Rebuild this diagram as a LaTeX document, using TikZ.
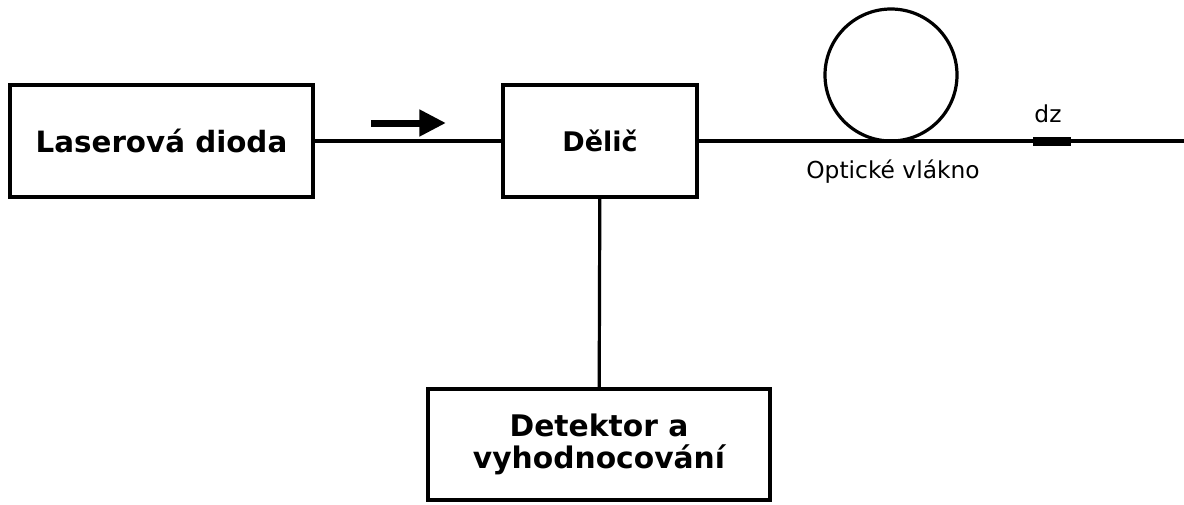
\documentclass[tikz,border=0pt]{standalone}
\usepackage{fontspec}
\setmainfont{DejaVu Sans}
\usetikzlibrary{arrows.meta}

\begin{document}
\begin{tikzpicture}[x=0.75pt, y=-0.75pt,
    blok/.style={draw, line width=2.4pt, inner sep=0pt, align=center,
        font=\fontsize{20.25pt}{24pt}\selectfont\bfseries},
    vlakno/.style={line width=2.4pt},
    popis/.style={font=\fontsize{17.5pt}{20pt}\selectfont}]
    \useasboundingbox (0,0) rectangle (1184,504);

    \coordinate (S) at (371,123);
    \coordinate (T) at (446,123);
    \coordinate (K) at (1184,141);
    \coordinate (C) at (891,75);

    \node[blok, minimum width=227.25pt, minimum height=84pt,
        font=\fontsize{22pt}{24pt}\selectfont\bfseries] (laser) at (161.5,141) {Laserová dioda};
    \node[blok, minimum width=145.5pt, minimum height=84pt] (delic) at (600,141) {Dělič};
    \node[blok, minimum width=256.5pt, minimum height=83.25pt,
        font=\fontsize{22.3pt}{24pt}\selectfont\bfseries] (detektor) at (599,444.5) {Detektor a\\vyhodnocování};

    \draw[vlakno] (laser) -- (delic);
    \draw[vlakno] (delic) -- (K);
    \draw[vlakno] (delic) -- (detektor);
    \draw[vlakno] (C) circle (66);

    % smer sireni
    \draw[line width=5.25pt, -{Triangle[length=20pt, width=19pt]}] (S) -- (T);

    % usek dz
    \fill (1033,137) rectangle (1071,146);
    \node[popis] (dz) at (1048,114) {dz};
    \node[popis] (oznaceni) at (893,172) {Optické vlákno};
\end{tikzpicture}
\end{document}
